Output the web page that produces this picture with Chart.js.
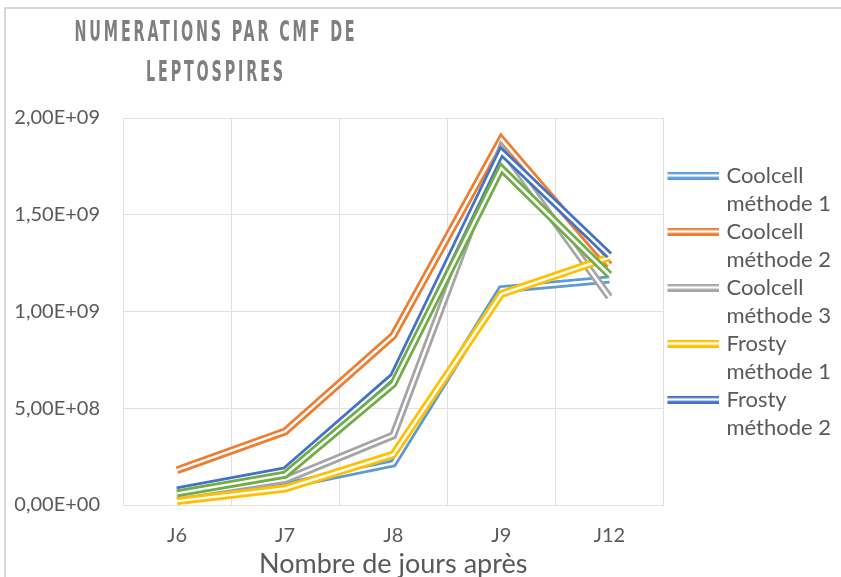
<!DOCTYPE html>
<html>
<head>
<meta charset="utf-8">
<script src="https://cdn.jsdelivr.net/npm/chart.js@4.4.1/dist/chart.umd.min.js"></script>
<style>
  html, body { margin: 0; padding: 0; background: #ffffff; overflow: hidden; }
  #wrap { position: relative; width: 841px; height: 577px; overflow: hidden; }
  #chart { position: absolute; left: 0; top: 0; }
  #frame { position: absolute; left: 4px; top: 7px; width: 900px; height: 700px; border: 2px solid #d9d9d9; pointer-events: none; }
</style>
</head>
<body>
<div id="wrap">
  <canvas id="chart" width="841" height="600"></canvas>
  <div id="frame"></div>
</div>
<script>
const categories = ['J6', 'J7', 'J8', 'J9', 'J12'];

const coolcell1 = [3.0e7, 1.0e8, 2.15e8, 1.115e9, 1.165e9];
const coolcell2 = [1.8e8, 3.8e8, 8.75e8, 1.89e9, 1.24e9];
const coolcell3 = [4.5e7, 1.3e8, 3.6e8, 1.845e9, 1.075e9];
const frosty1 = [2.0e7, 8.5e7, 2.6e8, 1.09e9, 1.28e9];
const frosty2 = [7.5e7, 1.78e8, 6.65e8, 1.825e9, 1.29e9];
const frosty3 = [6.0e7, 1.57e8, 6.25e8, 1.74e9, 1.19e9];

const seriesNames = ['Coolcell méthode 1', 'Coolcell méthode 2', 'Coolcell méthode 3',
  'Frosty méthode 1', 'Frosty méthode 2', 'Frosty méthode 3'];
const seriesValues = [coolcell1, coolcell2, coolcell3, frosty1, frosty2, frosty3];
const seriesColors = ['#5b9bd5', '#ed7d31', '#a5a5a5', '#ffc000', '#4472c4', '#70ad47'];

const titleLines = ['NUMERATIONS PAR CMF DE', 'LEPTOSPIRES'];
const xTitle = 'Nombre de jours après';

const FONT = 'Lato, "Open Sans", sans-serif';
const TEXT_COLOR = '#595959';
const GRID_COLOR = '#e0e0e0';
const LINE_WIDTH = 8;
const GAP_WIDTH = 2.5;
const TITLE_WIDTH = 283;

// 2,00E+09 style labels
const sci = (v) => {
  const [m, e] = Number(v).toExponential(2).split('e');
  const exp = String(Math.abs(+e)).padStart(2, '0');
  return `${m.replace('.', ',')}E${+e < 0 ? '-' : '+'}${exp}`;
};

// small double-line swatch for the legend
const makeSwatch = (color) => {
  const c = document.createElement('canvas');
  c.width = 60;
  c.height = 8;
  const g = c.getContext('2d');
  g.lineWidth = LINE_WIDTH;
  g.strokeStyle = color;
  g.beginPath();
  g.moveTo(8, 4);
  g.lineTo(60, 4);
  g.stroke();
  g.lineWidth = GAP_WIDTH;
  g.strokeStyle = '#ffffff';
  g.stroke();
  return c;
};
const swatches = seriesColors.map(makeSwatch);

// white stroke down the middle of each line gives the double-line look
const doubleLine = {
  id: 'doubleLine',
  afterDatasetDraw(chart, args) {
    const pts = args.meta.data;
    const ctx = chart.ctx;
    ctx.save();
    ctx.beginPath();
    pts.forEach((p, i) => (i ? ctx.lineTo(p.x, p.y) : ctx.moveTo(p.x, p.y)));
    ctx.lineWidth = GAP_WIDTH;
    ctx.lineJoin = 'miter';
    ctx.strokeStyle = '#ffffff';
    ctx.stroke();
    ctx.restore();
  }
};

// spaced, condensed chart title
const spacedTitle = {
  id: 'spacedTitle',
  afterDraw(chart) {
    const ctx = chart.ctx;
    ctx.save();
    ctx.font = 'bold 28px "Liberation Sans Narrow", "DejaVu Sans Condensed", sans-serif';
    ctx.letterSpacing = '5px';
    ctx.fillStyle = '#7f7f7f';
    ctx.textAlign = 'center';
    ctx.textBaseline = 'middle';
    const sx = Math.min(1, TITLE_WIDTH / ctx.measureText(titleLines[0]).width);
    ctx.translate(216, 0);
    ctx.scale(sx, 1);
    titleLines.forEach((line, i) => ctx.fillText(line, 0, 34 + i * 40));
    ctx.restore();
  }
};

const datasets = seriesNames.map((name, i) => ({
  label: name,
  data: seriesValues[i],
  borderColor: seriesColors[i],
  backgroundColor: seriesColors[i],
  borderWidth: LINE_WIDTH,
  borderJoinStyle: 'miter',
  pointRadius: 0,
  pointHoverRadius: 0,
  tension: 0,
  fill: false,
  order: seriesNames.length - i,
}));

new Chart(document.getElementById('chart'), {
  type: 'line',
  data: {
    labels: categories,
    datasets,
  },
  plugins: [doubleLine, spacedTitle],
  options: {
    responsive: false,
    animation: false,
    layout: {
      padding: {top: 118, left: 0, right: 0, bottom: 0},
    },
    plugins: {
      title: {display: false},
      tooltip: {enabled: false},
      legend: {
        position: 'right',
        align: 'start',
        fullSize: false,
        title: {
          display: true,
          text: '',
          font: {size: 10, lineHeight: 1},
          padding: {top: 36.5, bottom: 0},
        },
        labels: {
          usePointStyle: true,
          pointStyleWidth: 52,
          padding: 0,
          color: TEXT_COLOR,
          font: {family: FONT, size: 22, lineHeight: 28 / 22},
          filter: (item) => item.datasetIndex < 5,
          sort: (a, b) => a.datasetIndex - b.datasetIndex,
          generateLabels: (chart) => {
            const items = Chart.defaults.plugins.legend.labels.generateLabels(chart);
            items.forEach((item) => {
              const k = item.text.indexOf(' ');
              item.text = [item.text.slice(0, k), item.text.slice(k + 1)];
              item.pointStyle = swatches[item.datasetIndex];
            });
            return items;
          },
        },
      },
    },
    scales: {
      x: {
        offset: true,
        grid: {color: GRID_COLOR, drawTicks: false, offset: true},
        border: {color: GRID_COLOR},
        ticks: {
          color: TEXT_COLOR,
          padding: 19,
          font: {family: FONT, size: 20},
        },
        title: {
          display: true,
          text: xTitle,
          color: TEXT_COLOR,
          font: {family: FONT, size: 27, lineHeight: 1.2},
          padding: {top: 2, bottom: 20},
        },
        afterFit: (scale) => {
          scale.height = 95;
        },
      },
      y: {
        min: 0,
        max: 2e9,
        grid: {color: GRID_COLOR, drawTicks: false},
        border: {color: GRID_COLOR},
        ticks: {
          stepSize: 5e8,
          color: TEXT_COLOR,
          padding: 23,
          font: {family: FONT, size: 20},
          callback: (v) => sci(v),
        },
        afterFit: (scale) => {
          scale.width = 123;
        },
      },
    },
  },
});
</script>
</body>
</html>
